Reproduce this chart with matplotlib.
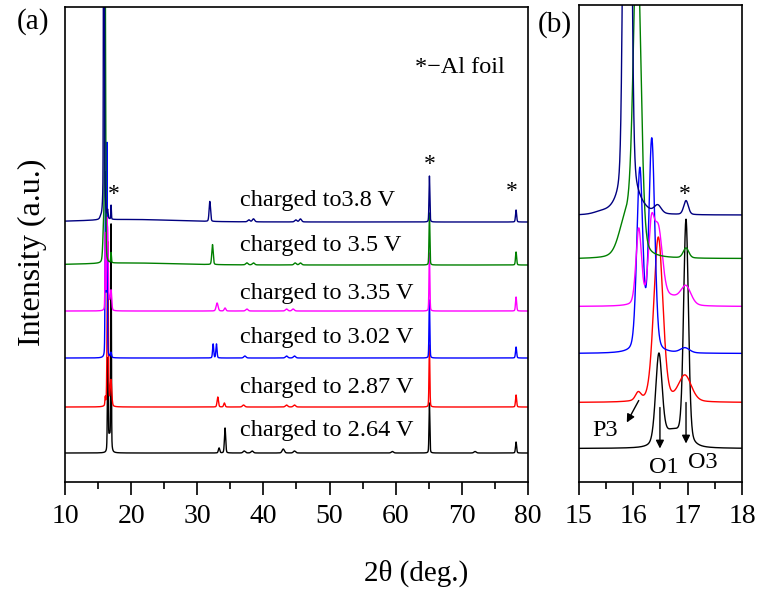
import numpy as np
import matplotlib
matplotlib.use("Agg")
import matplotlib.pyplot as plt
from matplotlib.ticker import MultipleLocator

plt.rcParams["font.family"] = ["Liberation Serif", "DejaVu Serif"]

# ---------------------------------------------------------------------------
# Data: peaks, (2theta, height, fwhm), heights in a.u.
# ---------------------------------------------------------------------------
LABELS = ["charged to 2.64 V", "charged to 2.87 V", "charged to 3.02 V",
          "charged to 3.35 V", "charged to 3.5 V", "charged to3.8 V"]
COLORS = ["#000000", "#FF0000", "#0000FF", "#FF00FF", "#008000", "#000080"]
OFFSETS = [29, 75, 124, 171, 217, 260]

PEAKS_264 = [(16.47, 88, 0.14), (16.97, 222, 0.105), (16.72, 16, 0.45),
             (33.3, 5, 0.25), (34.2, 25, 0.22), (37.1, 2, 0.4), (38.3, 2, 0.4),
             (43.0, 4, 0.4), (44.7, 2, 0.4), (59.5, 1.5, 0.4), (65.1, 50, 0.15),
             (72.0, 1.5, 0.4), (78.2, 11, 0.2)]
PEAKS_287 = [(16.09, 8, 0.12), (16.46, 165, 0.2), (16.95, 26, 0.28),
             (33.1, 10, 0.25), (34.1, 4, 0.25), (37.0, 2, 0.4), (43.5, 2, 0.4),
             (44.7, 2, 0.4), (65.1, 62, 0.15), (78.2, 12, 0.2)]
PEAKS_302 = [(16.12, 182, 0.13), (16.34, 212, 0.13), (16.95, 5, 0.2),
             (32.4, 14, 0.2), (32.9, 14, 0.2), (37.2, 2, 0.4), (43.5, 2, 0.4),
             (44.7, 2, 0.4), (65.1, 58, 0.15), (78.2, 11, 0.2)]
PEAKS_335 = [(16.10, 76, 0.12), (16.33, 70, 0.13), (16.46, 72, 0.18),
             (16.70, 8, 0.4), (16.97, 18, 0.22), (33.0, 8, 0.35), (34.2, 3, 0.3),
             (37.5, 2, 0.4), (43.5, 2, 0.4), (44.5, 2, 0.4), (65.1, 58, 0.15),
             (78.2, 14, 0.2)]
PEAKS_35 = [(16.07, 320, 0.16), (15.87, 38, 0.3), (16.97, 10, 0.12),
            (20.0, 2, 16.0), (32.3, 20, 0.25), (37.5, 2, 0.4), (38.5, 2, 0.4),
            (44.8, 2, 0.4), (45.6, 2, 0.4), (65.1, 52, 0.15), (78.2, 13, 0.2)]
PEAKS_38 = [(15.85, 500, 0.09), (15.93, 500, 0.09), (15.92, 20, 0.45),
            (15.4, 2, 0.3), (16.45, 8, 0.15), (16.97, 14, 0.1),
            (20.0, 2.5, 16.0), (31.9, 20, 0.25), (37.8, 2, 0.4), (38.5, 3, 0.4),
            (44.9, 2, 0.4), (45.6, 3, 0.4), (65.1, 46, 0.15), (78.2, 12, 0.2)]
PEAK_SETS = [PEAKS_264, PEAKS_287, PEAKS_302, PEAKS_335, PEAKS_35, PEAKS_38]

ETA = 0.25  # Lorentzian fraction of the pseudo-Voigt line shape


def pattern(x, peaks):
    y = np.zeros_like(x)
    for c, h, w in peaks:
        s = w / 2.3548
        g = w / 2.0
        gau = np.exp(-0.5 * ((x - c) / s) ** 2)
        lor = 1.0 / (1.0 + ((x - c) / g) ** 2)
        y += h * (ETA * lor + (1 - ETA) * gau)
    return y


fig = plt.figure(figsize=(7.6, 5.95), dpi=100)
ax_a = fig.add_axes([0.0855, 0.1899, 0.6092, 0.7983])
ax_b = fig.add_axes([0.7618, 0.1899, 0.2145, 0.8017])

tth_a = np.arange(10, 80.001, 0.004)
tth_b = np.arange(15, 18.0001, 0.002)

for peaks, off, col in zip(PEAK_SETS, OFFSETS, COLORS):
    ax_a.plot(tth_a, pattern(tth_a, peaks) + off, color=col, lw=1.0)
    ax_b.plot(tth_b, pattern(tth_b, peaks) + off, color=col, lw=1.0)

ax_a.set_xlim(10, 80)
ax_a.set_ylim(0, 475)
ax_b.set_xlim(15, 18)
ax_b.set_ylim(-4.5, 472.5)

ax_a.xaxis.set_major_locator(MultipleLocator(10))
ax_a.xaxis.set_minor_locator(MultipleLocator(5))
ax_b.xaxis.set_major_locator(MultipleLocator(1))
ax_b.xaxis.set_minor_locator(MultipleLocator(0.5))

for ax in (ax_a, ax_b):
    ax.set_yticks([])
    for sp in ax.spines.values():
        sp.set_linewidth(1.2)
    ax.tick_params(axis="x", which="major", direction="out", length=9,
                   width=1.2, labelsize=20, pad=7)
    ax.tick_params(axis="x", which="minor", direction="out", length=5,
                   width=1.2)

# curve labels (panel a)
label_y = [52, 95, 145, 189, 237, 282]
for txt, ly in zip(LABELS, label_y):
    ax_a.text(36.5, ly, txt, fontsize=17.5, ha="left", va="center")

ax_a.text(62.9, 415, "*\u2212Al foil", fontsize=17.5, ha="left", va="center")
for sx, sy in [(17.4, 288), (65.2, 318), (77.6, 291)]:
    ax_a.text(sx, sy, "*", fontsize=17, ha="center", va="center")

# panel b annotations
ax_b.text(16.95, 283, "*", fontsize=17, ha="center", va="center")
ax_b.text(15.48, 47, "P3", fontsize=17.5, ha="center", va="center")
ax_b.text(16.56, 10, "O1", fontsize=17.5, ha="center", va="center")
ax_b.text(17.28, 15, "O3", fontsize=17.5, ha="center", va="center")
arrow = dict(arrowstyle="-|>", color="black", lw=1.0, mutation_scale=12,
             shrinkA=0, shrinkB=0)
ax_b.annotate("", xy=(15.88, 55), xytext=(16.10, 77), arrowprops=arrow)
ax_b.annotate("", xy=(16.49, 29), xytext=(16.49, 70), arrowprops=arrow)
ax_b.annotate("", xy=(16.97, 34), xytext=(16.97, 75), arrowprops=arrow)

fig.text(33 / 760, 1 - 22 / 595, "(a)", fontsize=21, ha="center", va="center")
fig.text(555 / 760, 1 - 25 / 595, "(b)", fontsize=21, ha="center", va="center")
fig.text(32 / 760, 1 - 252 / 595, "Intensity (a.u.)", fontsize=23,
         rotation=90, ha="center", va="center")
fig.text(416 / 760, 1 - 573 / 595, "2\u03b8 (deg.)", fontsize=21,
         ha="center", va="center")

fig.savefig("out.png", dpi=100)
